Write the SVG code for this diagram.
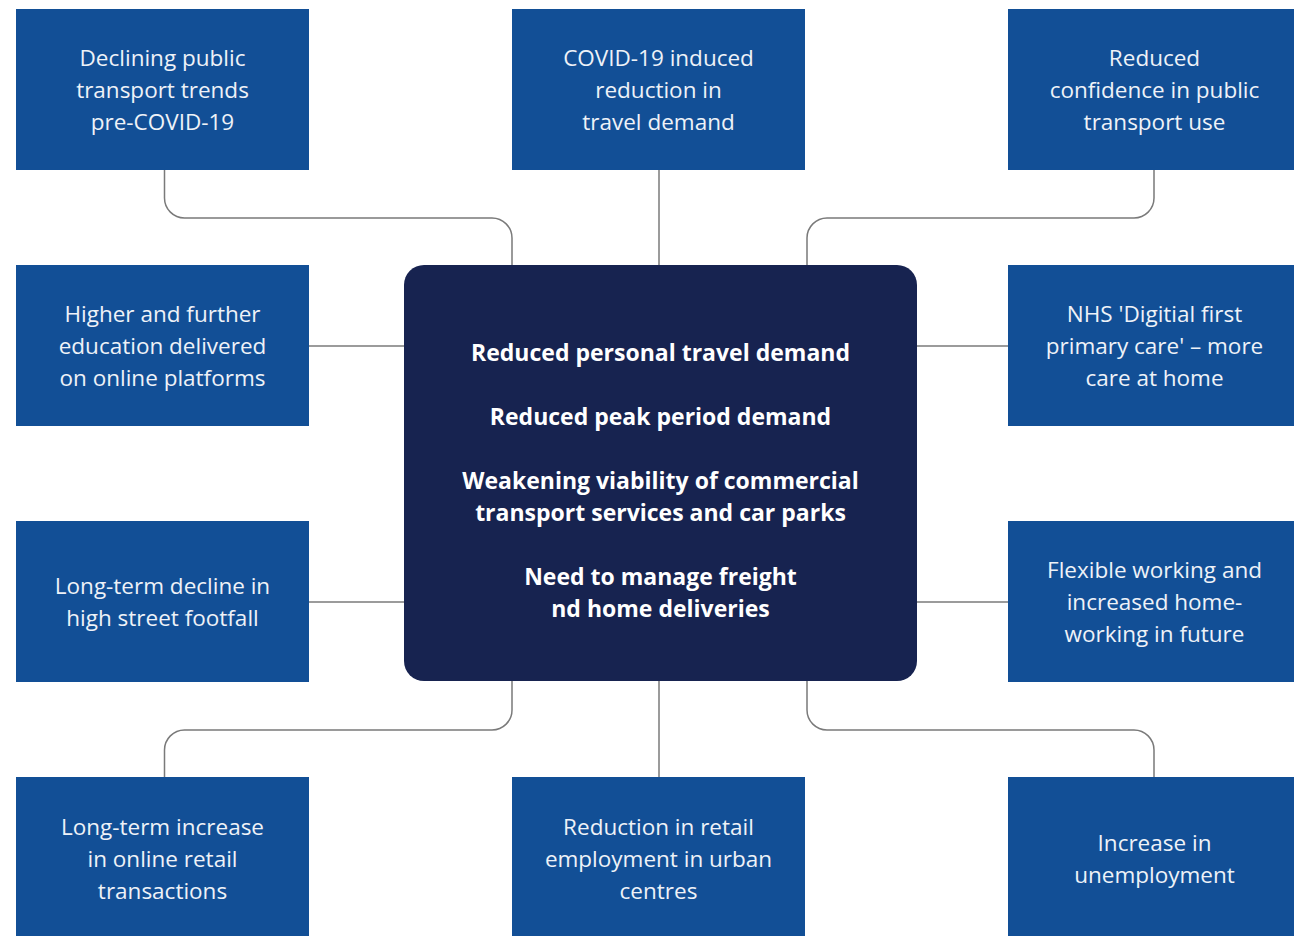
<svg xmlns="http://www.w3.org/2000/svg" width="1294" height="936" viewBox="0 0 1294 936">
<style>
.box{fill:#124f96}
.hub{fill:#172350}
.t{font-family:"Open Sans","Noto Sans","Liberation Sans",sans-serif;font-size:22.5px;fill:#eef2f8;text-anchor:middle}
.b{font-family:"Open Sans","Noto Sans","Liberation Sans",sans-serif;font-size:23px;font-weight:bold;fill:#ffffff;text-anchor:middle}
.c{fill:none;stroke:#7a7a7a;stroke-width:1.5}
</style>
<rect width="1294" height="936" fill="#ffffff"/>
<g id="connectors">
<path class="c" d="M164.5,170 V198 A20,20 0 0 0 184.5,218 H492 A20,20 0 0 1 512,238 V265"/>
<path class="c" d="M659,170 V265"/>
<path class="c" d="M1154,170 V198 A20,20 0 0 1 1134,218 H827 A20,20 0 0 0 807,238 V265"/>
<path class="c" d="M309,346 H404"/>
<path class="c" d="M309,602 H404"/>
<path class="c" d="M917,346 H1008"/>
<path class="c" d="M917,602 H1008"/>
<path class="c" d="M512,681 V710 A20,20 0 0 1 492,730 H184.5 A20,20 0 0 0 164.5,750 V777"/>
<path class="c" d="M659,681 V777"/>
<path class="c" d="M807,681 V710 A20,20 0 0 0 827,730 H1134 A20,20 0 0 1 1154,750 V777"/>
</g>
<g id="hub">
<rect class="hub" x="404" y="265" width="513" height="416" rx="20"/>
<text class="b" x="660.5" y="361">Reduced personal travel demand</text>
<text class="b" x="660.5" y="425">Reduced peak period demand</text>
<text class="b" x="660.5" y="489">Weakening viability of commercial</text>
<text class="b" x="660.5" y="521">transport services and car parks</text>
<text class="b" x="660.5" y="585">Need to manage freight</text>
<text class="b" x="660.5" y="617">nd home deliveries</text>
</g>
<g id="n1">
<rect class="box" x="16" y="9" width="293" height="161"/>
<text class="t" x="162.5" y="66">Declining public</text>
<text class="t" x="162.5" y="98">transport trends</text>
<text class="t" x="162.5" y="130">pre-COVID-19</text>
</g>
<g id="n2">
<rect class="box" x="512" y="9" width="293" height="161"/>
<text class="t" x="658.5" y="66">COVID-19 induced</text>
<text class="t" x="658.5" y="98">reduction in</text>
<text class="t" x="658.5" y="130">travel demand</text>
</g>
<g id="n3">
<rect class="box" x="1008" y="9" width="293" height="161"/>
<text class="t" x="1154.5" y="66">Reduced</text>
<text class="t" x="1154.5" y="98">confidence in public</text>
<text class="t" x="1154.5" y="130">transport use</text>
</g>
<g id="n4">
<rect class="box" x="16" y="265" width="293" height="161"/>
<text class="t" x="162.5" y="322">Higher and further</text>
<text class="t" x="162.5" y="354">education delivered</text>
<text class="t" x="162.5" y="386">on online platforms</text>
</g>
<g id="n5">
<rect class="box" x="1008" y="265" width="293" height="161"/>
<text class="t" x="1154.5" y="322">NHS 'Digitial first</text>
<text class="t" x="1154.5" y="354">primary care' – more</text>
<text class="t" x="1154.5" y="386">care at home</text>
</g>
<g id="n6">
<rect class="box" x="16" y="521" width="293" height="161"/>
<text class="t" x="162.5" y="594">Long-term decline in</text>
<text class="t" x="162.5" y="626">high street footfall</text>
</g>
<g id="n7">
<rect class="box" x="1008" y="521" width="293" height="161"/>
<text class="t" x="1154.5" y="578">Flexible working and</text>
<text class="t" x="1154.5" y="610">increased home-</text>
<text class="t" x="1154.5" y="642">working in future</text>
</g>
<g id="n8">
<rect class="box" x="16" y="777" width="293" height="161"/>
<text class="t" x="162.5" y="835">Long-term increase</text>
<text class="t" x="162.5" y="867">in online retail</text>
<text class="t" x="162.5" y="899">transactions</text>
</g>
<g id="n9">
<rect class="box" x="512" y="777" width="293" height="161"/>
<text class="t" x="658.5" y="835">Reduction in retail</text>
<text class="t" x="658.5" y="867">employment in urban</text>
<text class="t" x="658.5" y="899">centres</text>
</g>
<g id="n10">
<rect class="box" x="1008" y="777" width="293" height="161"/>
<text class="t" x="1154.5" y="851">Increase in</text>
<text class="t" x="1154.5" y="883">unemployment</text>
</g>
</svg>
